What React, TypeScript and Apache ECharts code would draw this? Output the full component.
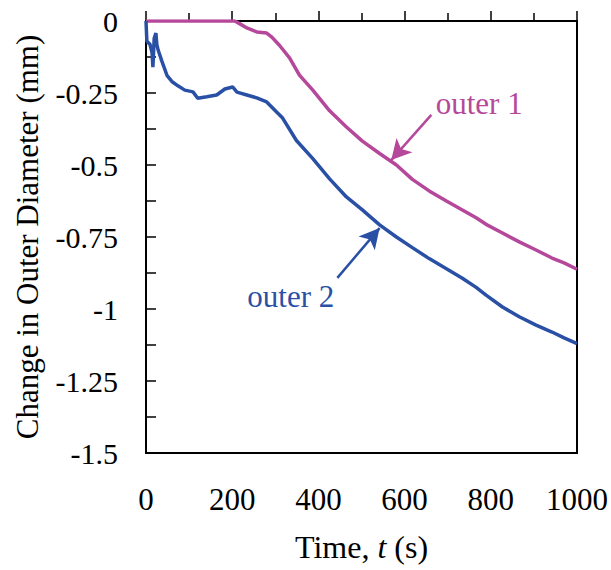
import React, { useEffect, useRef } from "react";
import * as echarts from "echarts";

const outer1Time = [0, 50, 100, 150, 206, 218, 234, 257, 280, 292, 310, 333, 356, 387, 426, 465, 502, 542, 581, 618, 657, 697, 734, 766, 789, 827, 866, 905, 942, 970, 1000];
const outer1Value = [0, 0, 0, 0, 0, -0.01, -0.024, -0.038, -0.042, -0.056, -0.085, -0.128, -0.188, -0.24, -0.312, -0.368, -0.417, -0.46, -0.5, -0.55, -0.59, -0.625, -0.656, -0.683, -0.706, -0.736, -0.767, -0.795, -0.823, -0.84, -0.862];

const outer2Time = [0, 2, 5, 9, 14, 16, 19, 23, 25, 28, 37, 49, 60, 74, 90, 109, 120, 141, 164, 183, 201, 211, 234, 257, 280, 303, 317, 349, 387, 426, 465, 502, 542, 581, 618, 657, 697, 734, 766, 789, 827, 866, 905, 942, 970, 1000];
const outer2Value = [0, -0.07, -0.075, -0.08, -0.11, -0.16, -0.06, -0.042, -0.08, -0.1, -0.14, -0.19, -0.21, -0.225, -0.24, -0.246, -0.268, -0.263, -0.257, -0.236, -0.229, -0.247, -0.257, -0.267, -0.281, -0.316, -0.337, -0.415, -0.478, -0.548, -0.611, -0.656, -0.708, -0.75, -0.787, -0.825, -0.86, -0.893, -0.925, -0.952, -0.993, -1.027, -1.056, -1.08, -1.1, -1.12];

const seriesNames = ["outer 1", "outer 2"];
const colors = ["#B5489B", "#2A50A6"];
// annotation anchors in data coordinates: [tail, head]
const arrow1 = [[662, -0.326], [569, -0.483]];
const arrow2 = [[444, -0.892], [542, -0.719]];
const label1Pos = [773, -0.285];
const label2Pos = [336, -0.955];

const FONT = "'Liberation Serif', 'Times New Roman', serif";

export default function App() {
  const ref = useRef<HTMLDivElement>(null);
  useEffect(() => {
    if (!ref.current) return;
    const chart = echarts.init(ref.current, undefined, { renderer: "svg" });
    const mk = (t: number[], v: number[]) => t.map((x, i) => [x, v[i]]);
    const arrowLine = (a: number[][], color: string) => ({
      silent: true,
      symbol: ["none", "arrow"],
      symbolSize: [16, 20],
      label: { show: false },
      lineStyle: { color, width: 2.5, type: "solid" },
      data: [[{ coord: a[0] }, { coord: a[1] }]],
    });
    chart.setOption({
      animation: false,
      grid: { left: 146, right: 33, top: 21, bottom: 117, show: true, borderColor: "#000", borderWidth: 2 },
      xAxis: {
        type: "value",
        min: 0,
        max: 1000,
        interval: 200,
        name: "Time, {i|t} (s)",
        nameLocation: "middle",
        nameGap: 78,
        nameTextStyle: {
          fontFamily: FONT,
          fontSize: 32,
          color: "#000",
          rich: { i: { fontFamily: FONT, fontSize: 32, fontStyle: "italic", color: "#000" } },
        },
        axisLine: { lineStyle: { color: "#000", width: 2 } },
        axisTick: { inside: true, length: 10, lineStyle: { color: "#000", width: 1.5 } },
        minorTick: { show: true, splitNumber: 2, length: 8, lineStyle: { color: "#000", width: 1.5 } },
        axisLabel: { fontFamily: FONT, fontSize: 31, color: "#000", margin: 31, formatter: (v: number) => String(v) },
        splitLine: { show: false },
      },
      yAxis: {
        type: "value",
        min: -1.5,
        max: 0,
        interval: 0.25,
        name: "Change in Outer Diameter (mm)",
        nameLocation: "middle",
        nameGap: 103,
        nameTextStyle: { fontFamily: FONT, fontSize: 31, color: "#000" },
        axisLine: { lineStyle: { color: "#000", width: 2 } },
        axisTick: { inside: true, length: 10, lineStyle: { color: "#000", width: 1.5 } },
        minorTick: { show: true, splitNumber: 2, length: 10, lineStyle: { color: "#000", width: 1.5 } },
        axisLabel: { fontFamily: FONT, fontSize: 30, color: "#000", margin: 28, formatter: (v: number) => String(v) },
        splitLine: { show: false },
      },
      series: [
        {
          name: seriesNames[0],
          type: "line",
          data: mk(outer1Time, outer1Value),
          showSymbol: false,
          lineStyle: { color: colors[0], width: 3.5 },
          itemStyle: { color: colors[0] },
          markLine: arrowLine(arrow1, colors[0]),
        },
        {
          name: seriesNames[1],
          type: "line",
          data: mk(outer2Time, outer2Value),
          showSymbol: false,
          lineStyle: { color: colors[1], width: 3.5 },
          itemStyle: { color: colors[1] },
          markLine: arrowLine(arrow2, colors[1]),
        },
      ],
    });
    const p1 = chart.convertToPixel({ gridIndex: 0 }, label1Pos) as number[];
    const p2 = chart.convertToPixel({ gridIndex: 0 }, label2Pos) as number[];
    chart.setOption({
      graphic: [
        {
          type: "text",
          x: p1[0],
          y: p1[1],
          style: { text: seriesNames[0], fill: colors[0], font: `31px ${FONT}`, align: "center", verticalAlign: "middle" },
        },
        {
          type: "text",
          x: p2[0],
          y: p2[1],
          style: { text: seriesNames[1], fill: colors[1], font: `31px ${FONT}`, align: "center", verticalAlign: "middle" },
        },
      ],
    });
    return () => chart.dispose();
  }, []);
  return <div ref={ref} style={{ position: "absolute", left: 0, top: 0, width: 611, height: 570 }} />;
}
